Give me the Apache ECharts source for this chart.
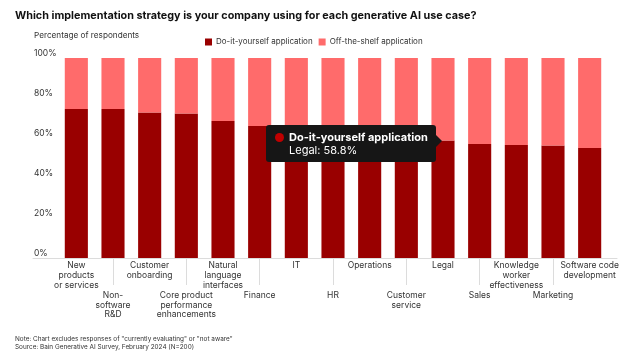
<!DOCTYPE html>
<html><head><meta charset="utf-8">
<script src="https://cdn.jsdelivr.net/npm/echarts@6/dist/echarts.min.js"></script>
<style>html,body{margin:0;padding:0;background:#fff}#c{width:640px;height:356px}</style>
</head><body><div id="c"></div>
<script>
const categories = [
  "New\nproducts\nor services", "Non-\nsoftware\nR&D", "Customer\nonboarding",
  "Core product\nperformance\nenhancements", "Natural\nlanguage\ninterfaces", "Finance",
  "IT", "HR", "Operations", "Customer\nservice", "Legal", "Sales",
  "Knowledge\nworker\neffectiveness", "Marketing", "Software code\ndevelopment"
];
const tipNames = ["New products or services","Non-software R&D","Customer onboarding","Core product performance enhancements","Natural language interfaces","Finance","IT","HR","Operations","Customer service","Legal","Sales","Knowledge worker effectiveness","Marketing","Software code development"];
const diyValues = [74.5, 74.5, 72.7, 72.2, 68.5, 66.0, 64.5, 63.0, 62.0, 60.5, 58.8, 57.0, 56.5, 56.2, 55.0];
const otsValues = [25.5, 25.5, 27.3, 27.8, 31.5, 34.0, 35.5, 37.0, 38.0, 39.5, 41.2, 43.0, 43.5, 43.8, 45.0];
const yTicks = [0, 20, 40, 60, 80, 100];
const seriesNames = ["Do-it-yourself application", "Off-the-shelf application"];

const FONT = 'Inter, "Noto Sans", sans-serif';
const chart = echarts.init(document.getElementById('c'), null, {renderer: 'canvas'});
chart.setOption({
  animation: false,
  backgroundColor: '#fff',
  textStyle: {fontFamily: FONT},
  title: [
    {text: 'Which implementation strategy is your company using for each generative AI use case?', left: 15, top: 10, padding: 0,
     textStyle: {fontFamily: FONT, fontSize: 10.8, fontWeight: 'bold', color: '#111'}},
    {text: 'Percentage of respondents', left: 34, top: 32, padding: 0, textStyle: {fontFamily: FONT, fontSize: 8.2, fontWeight: 'normal', color: '#333'}},
    {text: 'Note: Chart excludes responses of "currently evaluating" or "not aware"\nSource: Bain Generative AI Survey, February 2024 (N=200)', left: 15, top: 334.5, padding: 0,
     textStyle: {fontFamily: FONT, fontSize: 6.4, fontWeight: 'normal', color: '#333', lineHeight: 8.5}}
  ],
  legend: {
    left: 205, top: 38, padding: 0, itemWidth: 7, itemHeight: 7, itemGap: 6,
    icon: 'rect',
    textStyle: {fontFamily: FONT, fontSize: 8, color: '#333', padding: [0, 0, 0, -1]},
    data: seriesNames
  },
  tooltip: {
    trigger: 'item', alwaysShowContent: true, showContent: true, transitionDuration: 0,
    backgroundColor: '#161616', borderWidth: 0, padding: [6, 8, 5, 9],
    extraCssText: 'border-radius:3px;box-shadow:none;',
    position: function () { return [266, 125]; },
    formatter: function (p) {
      return '<div style="position:relative;font-family:Inter,sans-serif;color:#fff;font-size:11px;line-height:13px;white-space:nowrap">' +
        '<span style="display:inline-block;width:9px;height:9px;border-radius:50%;background:#c00000;margin-right:5px;vertical-align:-1px"></span>' +
        '<b>' + p.seriesName + '</b><br/><span style="margin-left:14px">' + tipNames[p.dataIndex] + ': ' + p.value + '%</span>' +
        '<div style="position:absolute;right:-14px;top:4px;width:0;height:0;border-top:6px solid transparent;border-bottom:6px solid transparent;border-left:6px solid #161616"></div></div>';
    }
  },
  grid: [
    {left: 58, right: 32, top: 58, bottom: 98},
    {left: 33, right: 23, top: 58, bottom: 98}
  ],
  xAxis: [
    {type: 'category', gridIndex: 0, data: categories,
     axisLine: {show: false},
     axisTick: {show: true, alignWithLabel: true, length: 27, interval: function (i) { return i % 2 === 1; }, lineStyle: {color: '#dcdcdc'}},
     axisLabel: {interval: 0, margin: 3, fontFamily: FONT, fontSize: 8.5, lineHeight: 9.8, color: '#333',
       formatter: function (v, i) { return i % 2 === 1 ? '\n\n\n' + v : v; }}},
    {type: 'value', gridIndex: 1, min: 0, max: 1, axisLine: {show: true, lineStyle: {color: '#dcdcdc'}},
     axisTick: {show: false}, axisLabel: {show: false}, splitLine: {show: false}}
  ],
  yAxis: [
    {type: 'value', gridIndex: 0, min: 0, max: 100, interval: 20,
     axisLine: {show: false}, axisTick: {show: false}, splitLine: {show: false},
     axisLabel: {align: 'left', margin: 24, verticalAlign: 'bottom', fontFamily: FONT, fontSize: 8.5, color: '#333',
       formatter: function (v) { return yTicks.indexOf(v) >= 0 ? v + '%' : ''; }}},
    {type: 'value', gridIndex: 1, show: false}
  ],
  series: [
    {name: seriesNames[0], type: 'bar', stack: 's', xAxisIndex: 0, yAxisIndex: 0, barWidth: '63%', data: diyValues,
     itemStyle: {color: '#990000'}, emphasis: {disabled: true}},
    {name: seriesNames[1], type: 'bar', stack: 's', xAxisIndex: 0, yAxisIndex: 0, barWidth: '63%', data: otsValues,
     itemStyle: {color: '#ff6b6b'}, emphasis: {disabled: true}, tooltip: {show: false}}
  ]
});
chart.dispatchAction({type: 'showTip', seriesIndex: 0, dataIndex: 10});
</script></body></html>
